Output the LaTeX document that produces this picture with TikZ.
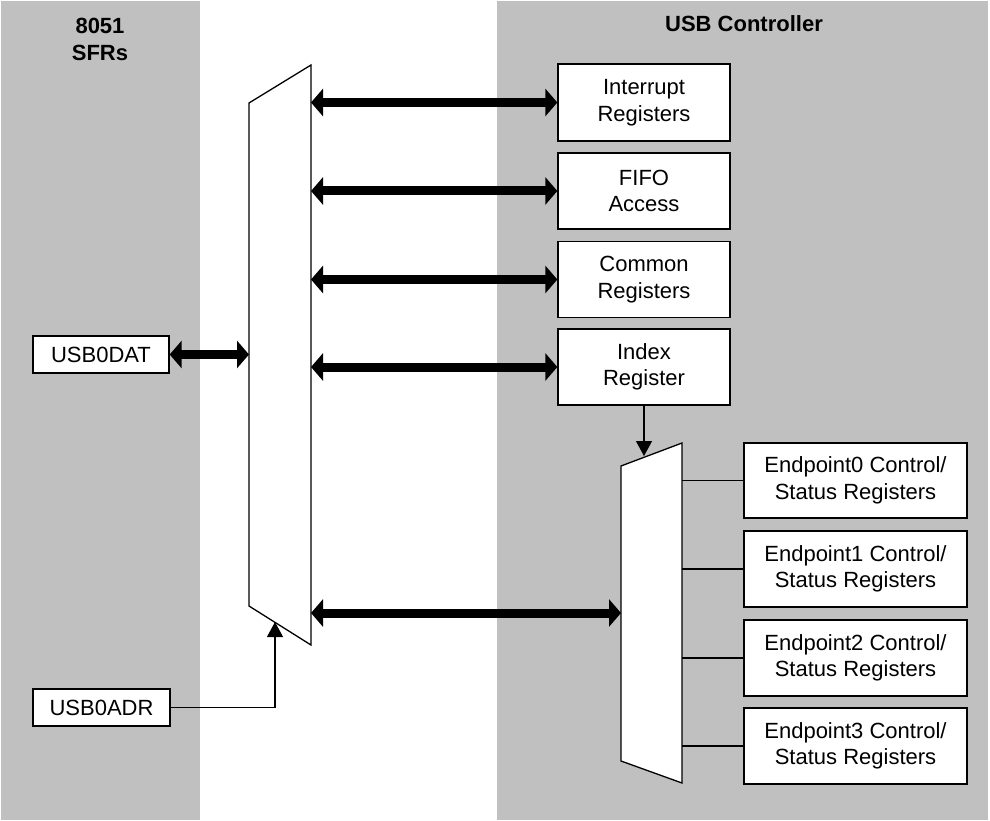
\documentclass[tikz,border=0pt]{standalone}
\usepackage{fontspec}
\setmainfont{Liberation Sans}
\usetikzlibrary{arrows.meta,calc}
\definecolor{bggray}{RGB}{192,192,192}
\tikzset{
  box/.style={draw, line width=1.3pt, fill=white, align=center, inner sep=0pt,
    font=\fontsize{22}{26.5}\selectfont},
  head/.style={align=center, inner sep=0pt, font=\fontsize{22}{27}\selectfont\bfseries},
  bus/.style={line width=9pt, {Triangle[length=12pt,width=27pt]}-{Triangle[length=12pt,width=27pt]}},
  sig/.style={line width=1.2pt, -{Triangle[length=15pt,width=16pt]}},
  wire/.style={line width=1.2pt},
  mux/.style={draw, line width=1.3pt, fill=white, line join=miter}
}
\begin{document}
\begin{tikzpicture}[x=1pt,y=-1pt]
\useasboundingbox (0,0) rectangle (990,821);
% background regions
\fill[bggray] (1,1) rectangle (200,820);
\fill[bggray] (497,1) rectangle (988,820);
% headings
\node[head, anchor=north] (h8051) at (100,17.5) {8051\\SFRs};
\node[head, anchor=north] (husb) at (744,15.5) {USB Controller};
% mux corners
\coordinate (m1tl) at (249,103);
\coordinate (m1tr) at (311,65);
\coordinate (m1br) at (311,645);
\coordinate (m1bl) at (249,606);
\coordinate (m2tl) at (621,466);
\coordinate (m2tr) at (682,443);
\coordinate (m2br) at (682,783);
\coordinate (m2bl) at (621,761);
\draw[mux] (m1tl) -- (m1tr) -- (m1br) -- (m1bl) -- cycle;
\draw[mux] (m2tl) -- (m2tr) -- (m2br) -- (m2bl) -- cycle;
% SFR boxes
\node[box, minimum width=136pt, minimum height=37pt] (usbdat) at (101,354.5) {USB0DAT};
\node[box, minimum width=137pt, minimum height=37pt] (usbadr) at (101.5,707.5) {USB0ADR};
% USB controller boxes
\node[box, minimum width=172pt, minimum height=77pt] (int) at (644,102.5) {Interrupt\\Registers};
\node[box, minimum width=172pt, minimum height=76pt] (fifo) at (644,191) {FIFO\\Access};
\node[box, minimum width=172pt, minimum height=76pt] (common) at (644,279.5) {Common\\Registers};
\node[box, minimum width=172pt, minimum height=76pt] (index) at (644,367) {Index\\Register};
\node[box, minimum width=223pt, minimum height=75pt] (ep0) at (855.5,480.5) {Endpoint0 Control/\\Status Registers};
\node[box, minimum width=223pt, minimum height=76pt] (ep1) at (855.5,569) {Endpoint1 Control/\\Status Registers};
\node[box, minimum width=223pt, minimum height=76pt] (ep2) at (855.5,658) {Endpoint2 Control/\\Status Registers};
\node[box, minimum width=223pt, minimum height=76pt] (ep3) at (855.5,746) {Endpoint3 Control/\\Status Registers};
% bus connectors
\draw[bus] (int.west -| m1tr) -- (int.west);
\draw[bus] (fifo.west -| m1tr) -- (fifo.west);
\draw[bus] (common.west -| m1tr) -- (common.west);
\draw[bus] (index.west -| m1tr) -- (index.west);
\draw[bus] (usbdat.east) -- (usbdat.east -| m1tl);
\coordinate (bb) at (311,613);
\draw[bus] (bb) -- (bb -| m2tl);
% signal arrows
\coordinate (m2in) at (644,456);
\draw[sig] (index.south) -- (m2in);
\coordinate (m1in) at (275,622);
\draw[sig] (usbadr.east) -| (m1in);
% endpoint wires
\draw[wire] (ep0.west) -- (ep0.west -| m2tr);
\draw[wire] (ep1.west) -- (ep1.west -| m2tr);
\draw[wire] (ep2.west) -- (ep2.west -| m2tr);
\draw[wire] (ep3.west) -- (ep3.west -| m2tr);
\end{tikzpicture}
\end{document}
